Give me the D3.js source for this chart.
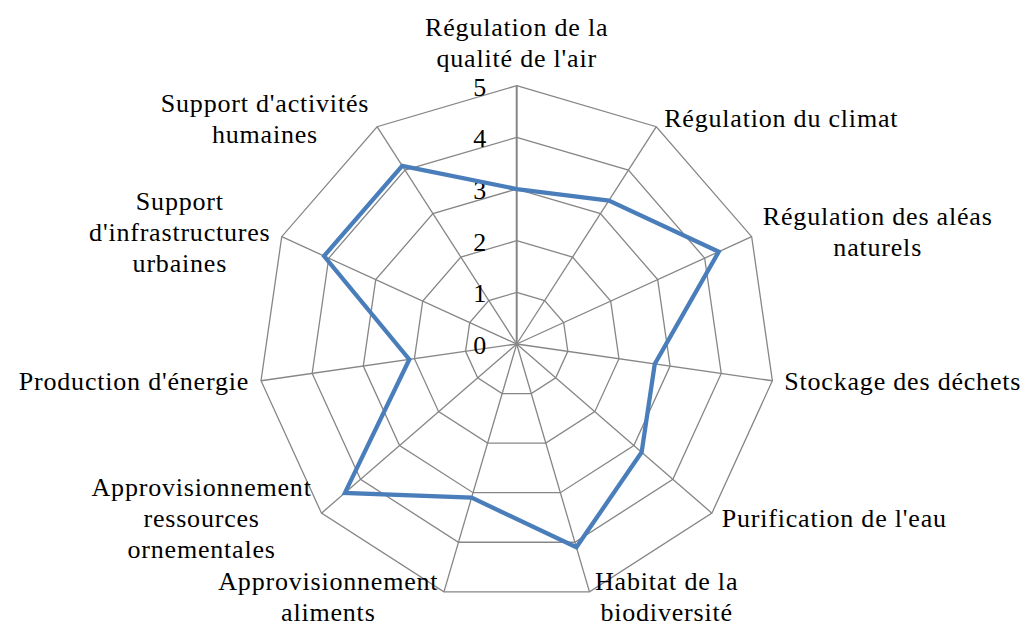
<!DOCTYPE html>
<html>
<head>
<meta charset="utf-8">
<script src="https://cdn.jsdelivr.net/npm/d3@7"></script>
<style>
  body { margin: 0; background: #fff; }
  text { font-family: "Liberation Serif", serif; fill: #000; }
</style>
</head>
<body>
<svg id="chart" width="1025" height="628"></svg>
<script>
  // categories, one array of lines per axis (wrapped as in the original)
  var categories = [
    ["Régulation de la", "qualité de l'air"],
    ["Régulation du climat"],
    ["Régulation des aléas", "naturels"],
    ["Stockage des déchets"],
    ["Purification de l'eau"],
    ["Habitat de la", "biodiversité"],
    ["Approvisionnement", "aliments"],
    ["Approvisionnement", "ressources", "ornementales"],
    ["Production d'énergie"],
    ["Support", "d'infrastructures", "urbaines"],
    ["Support d'activités", "humaines"]
  ];
  var values = [3, 3.3, 4.3, 2.7, 3.2, 4.1, 3.1, 4.4, 2.1, 4.1, 4.1];
  var ticks = [0, 1, 2, 3, 4, 5];

  var cx = 516.7, cy = 344, radius = 258.3;
  var fontSize = 26, lineHeight = 31;
  var gridColor = "#868686";

  var n = categories.length;
  var rScale = d3.scaleLinear().domain([0, 5]).range([0, radius]);
  var angle = d3.scaleLinear().domain([0, n]).range([0, 2 * Math.PI]);

  function pt(i, v) {
    var a = angle(i);
    return [cx + rScale(v) * Math.sin(a), cy - rScale(v) * Math.cos(a)];
  }

  var svg = d3.select("#chart");

  // rings
  var g = svg.append("g");
  g.selectAll(".ring")
      .data(ticks.slice(1))
      .enter()
      .append("polygon")
      .attr("class", "ring")
      .attr("points", function(t) {
          return d3.range(n).map(function(i) { return pt(i, t).join(","); }).join(" ");
      })
      .attr("fill", "none")
      .attr("stroke", gridColor)
      .attr("stroke-width", 1.3);

  // spokes
  g.selectAll(".spoke")
      .data(d3.range(n))
      .enter()
      .append("line")
      .attr("class", "spoke")
      .attr("x1", cx).attr("y1", cy)
      .attr("x2", function(i) { return pt(i, 5)[0]; })
      .attr("y2", function(i) { return pt(i, 5)[1]; })
      .attr("stroke", gridColor)
      .attr("stroke-width", function(i) { return i == 0 ? 2 : 1.3; });

  // tick labels
  svg.append("g").selectAll("text")
      .data(ticks)
      .enter()
      .append("text")
      .attr("x", cx - 30.5)
      .attr("y", function(t) { return cy - rScale(t) + 10; })
      .attr("text-anchor", "end")
      .style("font-size", fontSize + "px")
      .text(function(t) { return t; });

  // series
  var line = d3.line().curve(d3.curveLinearClosed);
  svg.append("path")
      .datum(values.map(function(v, i) { return pt(i, v); }))
      .attr("d", line)
      .attr("fill", "none")
      .attr("stroke", "#4a7ebb")
      .attr("stroke-width", 4.3)
      .attr("stroke-linejoin", "miter");

  // category labels
  var lg = svg.append("g");
  categories.forEach(function(lines, i) {
    var a = angle(i), s = Math.sin(a), c = Math.cos(a);
    var p = pt(i, 5);
    var grp = lg.append("g");
    var texts = grp.selectAll("text")
        .data(lines)
        .enter()
        .append("text")
        .attr("text-anchor", "middle")
        .style("font-size", fontSize + "px")
        .style("letter-spacing", "0.8px")
        .text(function(d) { return d; });
    var w = d3.max(texts.nodes(), function(node) { return node.getComputedTextLength(); });

    var bx, by;
    if (Math.abs(s) < 0.1) {
      bx = p[0];
      by = p[1] - c * ((lines.length * lineHeight) / 2 + 10);
    } else {
      var gap = 3 + 9 * Math.abs(s);
      bx = s > 0 ? p[0] + gap + w / 2 : p[0] - gap - w / 2;
      // bottom labels sit a little lower, but must stay inside the frame
      by = c < -0.9 ? p[1] + 7 : p[1] - 9 * c + 1;
    }
    texts.attr("x", bx)
        .attr("y", function(d, k) { return by + (k - (lines.length - 1) / 2) * lineHeight + 7; });
  });
</script>
</body>
</html>
